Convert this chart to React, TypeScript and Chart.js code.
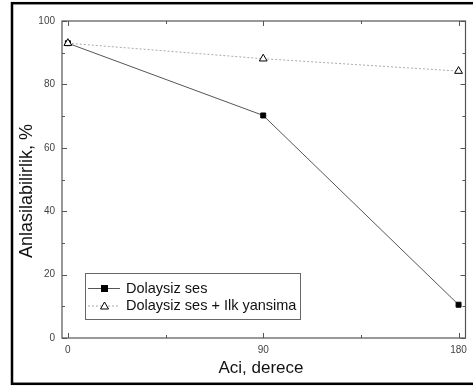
import { useEffect, useRef } from "react";
import { Chart, registerables } from "chart.js";

Chart.register(...registerables);

const angles = [0, 90, 180];
const directSound = [93, 70.2, 10.5];
const directPlusFirstReflection = [93, 88.1, 84.2];
const seriesLabels = ["Dolaysiz ses", "Dolaysiz ses + Ilk yansima"];
const xMajorTicks = [0, 90, 180];
const xMinorTicks = [45, 135];
const yMajorTicks = [0, 20, 40, 60, 80, 100];
const yMinorTicks = [10, 30, 50, 70, 90];
const xTitle = "Aci, derece";
const yTitle = "Anlasilabilirlik, %";

const FONT = "'Liberation Sans', Arial, Helvetica, sans-serif";

const decorPlugin = {
  id: "decor",
  afterDraw(chart: any) {
    const ctx = chart.ctx as CanvasRenderingContext2D;
    const { left, right, top, bottom } = chart.chartArea;
    const xs = chart.scales.x;
    const ys = chart.scales.y;
    ctx.save();

    // outer frame
    ctx.strokeStyle = "#000";
    ctx.lineWidth = 2.5;
    ctx.strokeRect(12, 3.2, 470, 380.6);

    // axis box
    ctx.strokeStyle = "#555";
    ctx.lineWidth = 1.2;
    ctx.strokeRect(left, top, right - left, bottom - top);

    // inward ticks
    ctx.lineWidth = 1;
    const tick = (x1: number, y1: number, x2: number, y2: number) => {
      ctx.beginPath();
      ctx.moveTo(x1, y1);
      ctx.lineTo(x2, y2);
      ctx.stroke();
    };
    xMajorTicks.forEach((v) => {
      const px = Math.round(xs.getPixelForValue(v)) + 0.5;
      tick(px, bottom, px, bottom - 5);
      tick(px, top, px, top + 5);
    });
    xMinorTicks.forEach((v) => {
      const px = Math.round(xs.getPixelForValue(v)) + 0.5;
      tick(px, bottom, px, bottom - 3);
      tick(px, top, px, top + 3);
    });
    yMajorTicks.forEach((v) => {
      const py = Math.round(ys.getPixelForValue(v)) + 0.5;
      tick(left, py, left + 5, py);
      tick(right, py, right - 5, py);
    });
    yMinorTicks.forEach((v) => {
      const py = Math.round(ys.getPixelForValue(v)) + 0.5;
      tick(left, py, left + 3, py);
      tick(right, py, right - 3, py);
    });

    // axis titles
    ctx.fillStyle = "#111";
    ctx.textAlign = "center";
    ctx.textBaseline = "middle";
    ctx.font = `17px ${FONT}`;
    ctx.fillText(xTitle, 261, 368);
    ctx.save();
    ctx.translate(27, 191);
    ctx.rotate(-Math.PI / 2);
    ctx.font = `18px ${FONT}`;
    ctx.fillText(yTitle, 0, 0);
    ctx.restore();

    // legend
    const lx = 85.5, ly = 273.5, lw = 215, lh = 46;
    ctx.strokeStyle = "#666";
    ctx.lineWidth = 1;
    ctx.fillStyle = "#fff";
    ctx.fillRect(lx, ly, lw, lh);
    ctx.strokeRect(lx, ly, lw, lh);
    chart.data.datasets.forEach((ds: any, i: number) => {
      const ry = 288.5 + i * 17.5;
      ctx.save();
      ctx.strokeStyle = ds.borderColor;
      ctx.lineWidth = ds.borderWidth;
      ctx.setLineDash(ds.borderDash || []);
      tick(88, ry, 120, ry);
      ctx.restore();
      ctx.save();
      ctx.strokeStyle = ds.pointBorderColor;
      ctx.fillStyle = ds.pointBackgroundColor;
      ctx.lineWidth = 1;
      if (ds.pointStyle === "rect") {
        ctx.fillRect(101, ry - 3.5, 7, 7);
      } else {
        ctx.beginPath();
        ctx.moveTo(104.5, ry - 4);
        ctx.lineTo(108.5, ry + 3);
        ctx.lineTo(100.5, ry + 3);
        ctx.closePath();
        ctx.fill();
        ctx.stroke();
      }
      ctx.restore();
      ctx.fillStyle = "#111";
      ctx.textAlign = "left";
      ctx.textBaseline = "middle";
      ctx.font = `14.5px ${FONT}`;
      ctx.fillText(ds.label, 126, ry);
    });

    ctx.restore();
  },
};

export default function App() {
  const canvasRef = useRef<HTMLCanvasElement | null>(null);

  useEffect(() => {
    if (!canvasRef.current) return;
    const chart = new Chart(canvasRef.current, {
      type: "line",
      data: {
        datasets: [
          {
            label: seriesLabels[0],
            data: angles.map((a, i) => ({ x: a, y: directSound[i] })),
            borderColor: "#555",
            borderWidth: 1,
            pointStyle: "rect",
            pointRadius: 3.5,
            pointBackgroundColor: "#000",
            pointBorderColor: "#000",
            pointBorderWidth: 1,
            tension: 0,
            order: 2,
          } as any,
          {
            label: seriesLabels[1],
            data: angles.map((a, i) => ({ x: a, y: directPlusFirstReflection[i] })),
            borderColor: "#aaa",
            borderWidth: 1,
            borderDash: [2, 2],
            pointStyle: "triangle",
            pointRadius: 4.5,
            pointBackgroundColor: "#fff",
            pointBorderColor: "#000",
            pointBorderWidth: 1,
            tension: 0,
            order: 1,
          } as any,
        ],
      },
      options: {
        responsive: false,
        animation: false,
        layout: { padding: { left: 0, top: 21, right: 3, bottom: 0 } },
        plugins: {
          legend: { display: false },
          tooltip: { enabled: false },
        },
        scales: {
          x: {
            type: "linear",
            min: -2.7,
            max: 183.2,
            afterBuildTicks: (s: any) => {
              s.ticks = xMajorTicks.map((v) => ({ value: v }));
            },
            afterFit: (s: any) => {
              s.height = 49;
            },
            grid: { display: false, drawTicks: false },
            border: { display: false },
            ticks: {
              padding: 6,
              color: "#444",
              font: { family: FONT, size: 10 },
              maxRotation: 0,
              autoSkip: false,
            },
          },
          y: {
            type: "linear",
            min: 0,
            max: 100,
            afterBuildTicks: (s: any) => {
              s.ticks = yMajorTicks.map((v) => ({ value: v }));
            },
            afterFit: (s: any) => {
              s.width = 62;
            },
            grid: { display: false, drawTicks: false },
            border: { display: false },
            ticks: {
              padding: 7,
              color: "#444",
              font: { family: FONT, size: 10 },
              autoSkip: false,
            },
          },
        },
      },
      plugins: [decorPlugin],
    });
    return () => chart.destroy();
  }, []);

  return (
    <div style={{ position: "fixed", left: 0, top: 0, width: 473, height: 387, background: "#fff" }}>
      <canvas ref={canvasRef} width={473} height={387} />
    </div>
  );
}
